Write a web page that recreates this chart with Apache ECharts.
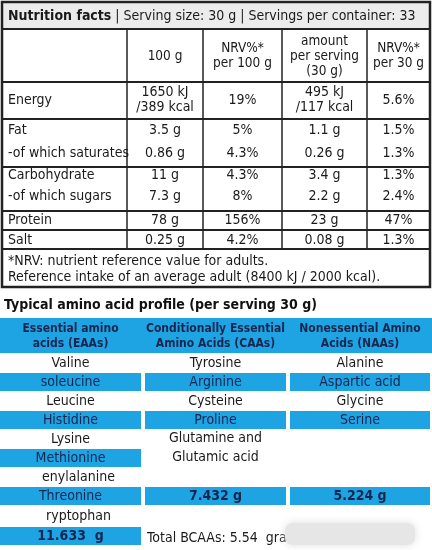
<!DOCTYPE html>
<html><head><meta charset="utf-8">
<script src="https://cdn.jsdelivr.net/npm/echarts@6/dist/echarts.min.js"></script>
<style>html,body{margin:0;padding:0;background:#fff}#c{width:432px;height:550px}</style>
</head><body><div id="c"></div>
<script>
const nutritionTitle = ["Nutrition facts", " | Serving size: 30 g | Servings per container: 33"];
const nutritionHeaders = ["", "100 g", "NRV%*\nper 100 g", "amount\nper serving\n(30 g)", "NRV%*\nper 30 g"];
const nutrients = ["Energy", "Fat", "-of which saturates", "Carbohydrate", "-of which sugars", "Protein", "Salt"];
const per100g = ["1650 kJ\n/389 kcal", "3.5 g", "0.86 g", "11 g", "7.3 g", "78 g", "0.25 g"];
const nrv100g = ["19%", "5%", "4.3%", "4.3%", "8%", "156%", "4.2%"];
const perServing = ["495 kJ\n/117 kcal", "1.1 g", "0.26 g", "3.4 g", "2.2 g", "23 g", "0.08 g"];
const nrvServing = ["5.6%", "1.5%", "1.3%", "1.3%", "2.4%", "47%", "1.3%"];
const noteLines = ["*NRV: nutrient reference value for adults.", "Reference intake of an average adult (8400 kJ / 2000 kcal)."];
const aminoTitle = "Typical amino acid profile (per serving 30 g)";
const aminoHeaders = ["Essential amino\nacids (EAAs)", "Conditionally Essential\nAmino Acids (CAAs)", "Nonessential Amino\nAcids (NAAs)"];
const eaas = ["Valine", "soleucine", "Leucine", "Histidine", "Lysine", "Methionine", "enylalanine", "Threonine", "ryptophan", "11.633  g"];
const caas = ["Tyrosine", "Arginine", "Cysteine", "Proline", "Glutamine and\nGlutamic acid", "", "", "7.432 g", "", ""];
const naas = ["Alanine", "Aspartic acid", "Glycine", "Serine", "", "", "", "5.224 g", "", ""];
const totalBCAA = "Total BCAAs: 5.54  gram";

const FONT = '"Liberation Sans Narrow","DejaVu Sans Condensed",sans-serif';
const BLUE = '#1ea3e3', NAVY = '#16264f', INK = '#1a1a1a';
const g = [];
function txt(x, y, s, o) {
  o = o || {};
  g.push({type:'text', x, y, z: 10, style:{text:s, fill:o.fill||INK, font:(o.bold?'bold ':'')+(o.size||14)+'px '+FONT,
    textAlign:o.align||'center', textVerticalAlign:'middle', lineHeight:o.lh||16}});
}
function rect(x, y, w, h, fill, stroke, lw) {
  g.push({type:'rect', shape:{x, y, width:w, height:h}, z:1, style:{fill:fill||'none', stroke:stroke||null, lineWidth:lw||0}});
}
function line(x1, y1, x2, y2, lw) {
  g.push({type:'line', z:5, shape:{x1, y1, x2, y2}, style:{stroke:'#222', lineWidth:lw||1.5}});
}
const L = 2, R = 430;
const colX = [L, 127, 203, 282, 367, R];
const rowLines = [29, 82, 119, 167, 211, 230, 249];
const rowCenters = [100, 130, 153, 175, 196, 220, 240];
rect(L, 2, R-L, 27, '#ececec');
rect(L, 2, R-L, 285, null, '#222', 2.5);
rowLines.forEach(y => line(L, y, R, y, 1.8));
for (let i = 1; i < 5; i++) line(colX[i], 29, colX[i], 249, 1.5);
g.push({type:'text', x:8, y:16, z:10, style:{text:'{b|'+nutritionTitle[0]+'}{n|'+nutritionTitle[1]+'}', textVerticalAlign:'middle',
  rich:{b:{font:'bold 14px '+FONT, fill:INK}, n:{font:'14px '+FONT, fill:INK}}}});
nutritionHeaders.forEach((h, i) => { if (h) txt((colX[i]+colX[i+1])/2, 56, h, {lh:15, size:13.5}); });
const cols = [per100g, nrv100g, perServing, nrvServing];
nutrients.forEach((n, r) => {
  txt(8, rowCenters[r], n, {align:'left'});
  cols.forEach((c, k) => txt((colX[k+1]+colX[k+2])/2, rowCenters[r], c[r], {lh:15}));
});
txt(8, 261, noteLines[0], {align:'left'});
txt(8, 277, noteLines[1], {align:'left'});

txt(4, 305, aminoTitle, {align:'left', bold:true, size:14, fill:'#111'});
const aX = [[0,141],[145,286],[290,430]];
rect(0, 318, 432, 35, BLUE);
aminoHeaders.forEach((h, i) => txt((aX[i][0]+aX[i][1])/2, 336, h, {bold:true, fill:NAVY, lh:15, size:12}));
const rowTop = [353, 372, 391, 410, 429, 448, 467, 486, 506, 526];
const rowH = 19;
const columns = [eaas, caas, naas];
const blueRows = {1:[0,1,2], 3:[0,1,2], 5:[0], 7:[0,1,2], 9:[0]};
Object.keys(blueRows).forEach(r => blueRows[r].forEach(c => rect(aX[c][0], rowTop[r]+1, aX[c][1]-aX[c][0], rowH-1, BLUE)));
columns.forEach((col, c) => col.forEach((s, r) => {
  if (!s) return;
  const isBlue = blueRows[r] && blueRows[r].includes(c);
  const bold = r >= 7 && c > 0 || r === 9;
  let y = rowTop[r] + rowH/2 + 1;
  if (s.indexOf('\n') >= 0) y = rowTop[r] + rowH;
  const x = (aX[c][0]+aX[c][1])/2 + (r === 6 || r === 8 ? 8 : 0);
  txt(x, y, s, {fill: isBlue ? NAVY : INK, bold, lh:19});
}));
txt(147, 538, totalBCAA, {align:'left'});
g.push({type:'rect', z:20, shape:{x:285, y:523, width:130, height:22, r:8}, style:{fill:'#e6e6e6', shadowBlur:8, shadowColor:'#ddd'}});

const chart = echarts.init(document.getElementById('c'));
chart.setOption({animation:false, graphic:{elements:g}});
</script></body></html>
